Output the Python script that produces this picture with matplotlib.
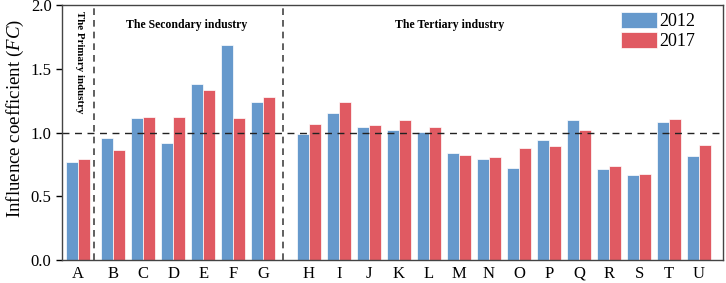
import numpy as np
import matplotlib
matplotlib.use('Agg')
import matplotlib.pyplot as plt

plt.rcParams['font.family'] = ['Liberation Serif', 'DejaVu Serif']
plt.rcParams['mathtext.fontset'] = 'custom'
plt.rcParams['mathtext.it'] = 'Liberation Serif:italic'
plt.rcParams['mathtext.rm'] = 'Liberation Serif'

SECTORS = list('ABCDEFGHIJKLMNOPQRSTU')
FC_2012 = [0.77, 0.96, 1.11, 0.915, 1.38, 1.69, 1.24,
           0.99, 1.155, 1.045, 1.02, 1.005, 0.84, 0.795, 0.725, 0.94, 1.095,
           0.71, 0.665, 1.08, 0.815]
FC_2017 = [0.795, 0.865, 1.12, 1.12, 1.33, 1.115, 1.28,
           1.07, 1.24, 1.055, 1.095, 1.04, 0.825, 0.805, 0.88, 0.895, 1.02,
           0.735, 0.675, 1.105, 0.90]

BLUE = '#6699CC'
RED = '#E05A62'

# group offsets: primary | secondary | tertiary
x = np.arange(len(SECTORS), dtype=float)
x[1:7] += 0.17
x[7:] += 0.69

fig = plt.figure(figsize=(7.26, 2.83), dpi=100)
ax = fig.add_axes([0.0854, 0.0813, 0.9105, 0.901])

w = 0.4
ax.bar(x - w / 2, FC_2012, w, color=BLUE, edgecolor='white', lw=0.5, label='2012')
ax.bar(x + w / 2, FC_2017, w, color=RED, edgecolor='white', lw=0.5, label='2017')

ax.axhline(1.0, color='#222222', ls=(0, (5, 4)), lw=1.0)
for xv in (0.52, 6.81):
    ax.axvline(xv, color='#444444', ls=(0, (4, 3)), lw=1.2)

ax.text(0.05, 1.55, 'The Primary industry', rotation=-90, ha='center', va='center',
        fontsize=7.8, fontweight='bold')
ax.text(3.61, 1.84, 'The Secondary industry', ha='center', va='center',
        fontsize=8.5, fontweight='bold')
ax.text(12.37, 1.84, 'The Tertiary industry', ha='center', va='center',
        fontsize=8.5, fontweight='bold')

ax.set_xlim(-0.54, 21.49)
ax.set_ylim(0, 2.0)
ax.set_yticks([0.0, 0.5, 1.0, 1.5, 2.0])
ax.set_yticklabels(['0.0', '0.5', '1.0', '1.5', '2.0'])
ax.set_xticks(x)
ax.set_xticklabels(SECTORS)
ax.tick_params(axis='x', length=0, labelsize=12, pad=4)
ax.tick_params(axis='y', length=4, width=1, labelsize=12, direction='out')
ax.set_ylabel(r'Influence coefficient ($FC$)', fontsize=13.6)
ax.yaxis.set_label_coords(-0.054, 0.555)
for sp in ax.spines.values():
    sp.set_color('#444444')
    sp.set_linewidth(1.0)

ax.legend(loc='upper right', frameon=False, fontsize=13, handlelength=1.95,
          handleheight=0.95, handletextpad=0.15, labelspacing=0.12,
          borderpad=0, borderaxespad=0, bbox_to_anchor=(0.958, 0.972))

plt.savefig('out.png', dpi=100)
